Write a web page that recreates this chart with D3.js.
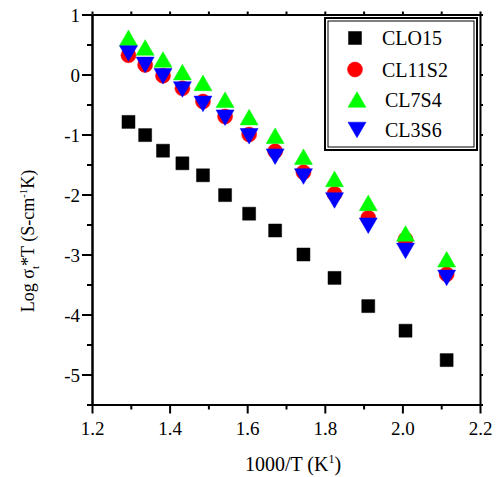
<!DOCTYPE html>
<html>
<head>
<meta charset="utf-8">
<script src="https://cdn.jsdelivr.net/npm/d3@7"></script>
<style>
  html, body { margin: 0; padding: 0; background: #fff; }
  svg { display: block; }
  svg text { font-family: "Liberation Serif", "Times New Roman", serif !important; fill: #000; }
</style>
</head>
<body>
<svg id="chart" width="497" height="477"></svg>
<script>
// ---- data ----
const xValues = [1.294, 1.337, 1.383, 1.433, 1.486, 1.543, 1.605, 1.672, 1.745, 1.825, 1.912, 2.008, 2.114];
const CLO15  = [-0.79, -1.01, -1.27, -1.48, -1.68, -2.01, -2.32, -2.60, -3.00, -3.39, -3.86, -4.27, -4.76];
const CL11S2 = [0.32, 0.16, -0.02, -0.23, -0.45, -0.70, -1.00, -1.28, -1.63, -1.99, -2.39, -2.75, -3.33];
const CL7S4  = [0.61, 0.45, 0.25, 0.04, -0.14, -0.42, -0.71, -1.02, -1.37, -1.74, -2.14, -2.65, -3.08];
const CL3S6  = [0.35, 0.16, -0.03, -0.25, -0.49, -0.72, -1.03, -1.37, -1.70, -2.10, -2.52, -2.94, -3.39];
const seriesNames = ["CLO15", "CL11S2", "CL7S4", "CL3S6"];
const xTicks = [1.2, 1.4, 1.6, 1.8, 2.0, 2.2];
const xTickLabels = ["1.2", "1.4", "1.6", "1.8", "2.0", "2.2"];
const xMinorTicks = [1.3, 1.5, 1.7, 1.9, 2.1];
const yTicks = [1, 0, -1, -2, -3, -4, -5];
const yTickLabels = ["1", "0", "-1", "-2", "-3", "-4", "-5"];
const yMinorTicks = [0.5, -0.5, -1.5, -2.5, -3.5, -4.5, -5.5];

const seriesData = [CLO15, CL11S2, CL7S4, CL3S6];
const colors = ["#000000", "#ff0000", "#00ff00", "#0000ff"];
const shapes = ["square", "circle", "up", "down"];

const svg = d3.select("#chart");
const L = 92, R = 480, T = 14.5, B = 404.5;
const x = d3.scaleLinear().domain([1.2, 2.2]).range([L, R]);
const y = d3.scaleLinear().domain([-5.5, 1]).range([B, T]);

function symbolPath(shape) {
  if (shape === "square") return "M-6.5,-6.5H6.5V6.5H-6.5Z";
  if (shape === "circle") return "M-7.5,0A7.5,7.5 0 1,0 7.5,0A7.5,7.5 0 1,0 -7.5,0Z";
  const h = 15.6, w = 9;
  if (shape === "up") return `M0,${-h/2}L${w},${h/2}L${-w},${h/2}Z`;
  return `M0,${h/2}L${w},${-h/2}L${-w},${-h/2}Z`;
}

// ---- axes ----
const FONT = '"Liberation Serif", "Times New Roman", serif';
const axB = d3.axisBottom(x).tickValues(xTicks).tickFormat((d, i) => xTickLabels[i]).tickSize(9).tickSizeOuter(0);
const axBm = d3.axisBottom(x).tickValues(xMinorTicks).tickFormat("").tickSize(5).tickSizeOuter(0);
const axL = d3.axisLeft(y).tickValues(yTicks).tickFormat((d, i) => yTickLabels[i]).tickSize(10).tickSizeOuter(0);
const axLm = d3.axisLeft(y).tickValues(yMinorTicks).tickFormat("").tickSize(5).tickSizeOuter(0);
const axT = d3.axisTop(x).tickValues(xTicks.concat(xMinorTicks)).tickFormat("").tickSize(3).tickSizeOuter(0);
const axR = d3.axisRight(y).tickValues(yTicks.concat(yMinorTicks)).tickFormat("").tickSize(3).tickSizeOuter(0);

function style(g, fs) {
  g.attr("font-family", FONT).attr("font-size", fs);
  g.selectAll(".domain").attr("stroke", "#000").attr("stroke-width", 2);
  g.selectAll(".tick line").attr("stroke", "#000").attr("stroke-width", 2);
  g.selectAll(".tick text").attr("font-family", FONT).attr("font-size", fs).attr("fill", "#000");
}

svg.append("g").attr("transform", `translate(0,${B})`).call(axBm).call(g => style(g, 19));
svg.append("g").attr("transform", `translate(0,${B})`).call(axB).call(g => style(g, 19))
  .selectAll(".tick text").attr("dy", "0.95em").attr("y", 12);
svg.append("g").attr("transform", `translate(${L},0)`).call(axLm).call(g => style(g, 19));
svg.append("g").attr("transform", `translate(${L},0)`).call(axL).call(g => style(g, 19))
  .selectAll(".tick text").attr("x", -12).attr("dy", "0.35em");
svg.append("g").attr("transform", `translate(0,${T})`).call(axT).call(g => style(g, 19));
svg.append("g").attr("transform", `translate(${R},0)`).call(axR).call(g => style(g, 19));

// ---- data marks ----
seriesData.forEach((vals, i) => {
  svg.append("g").selectAll("path").data(vals).join("path")
    .attr("d", symbolPath(shapes[i]))
    .attr("transform", (d, j) => `translate(${x(xValues[j])},${y(d)})`)
    .attr("fill", colors[i])
    .attr("stroke", colors[i]).attr("stroke-width", 0.5);
});

// ---- legend ----
const lg = svg.append("g");
lg.append("rect").attr("x", 325).attr("y", 18).attr("width", 152).attr("height", 132)
  .attr("fill", "#fff").attr("stroke", "#000").attr("stroke-width", 2);
lg.append("rect").attr("x", 328).attr("y", 21).attr("width", 146).attr("height", 126)
  .attr("fill", "none").attr("stroke", "#000").attr("stroke-width", 1);
const legendY = [38, 69.5, 99.5, 130];
seriesNames.forEach((name, i) => {
  lg.append("path").attr("d", symbolPath(shapes[i]))
    .attr("transform", `translate(${i < 2 ? 355 : 357},${legendY[i]})`)
    .attr("fill", colors[i]).attr("stroke", colors[i]).attr("stroke-width", 0.5);
  lg.append("text").attr("x", i < 2 ? 382 : 385).attr("y", legendY[i] + 7)
    .style("font-size", "20px").text(name);
});

// ---- axis titles ----
const xt = svg.append("text").attr("x", 293).attr("y", 471).attr("text-anchor", "middle").style("font-size", "20px");
xt.append("tspan").text("1000/T (K");
xt.append("tspan").attr("dy", -8).style("font-size", "12px").text("1");
xt.append("tspan").attr("dy", 8).text(")");

const yt = svg.append("text").attr("transform", "translate(34,241) rotate(-90)").attr("text-anchor", "middle").style("font-size", "18px");
yt.append("tspan").text("Log σ");
yt.append("tspan").attr("dy", 5).style("font-size", "11px").text("t");
yt.append("tspan").attr("dy", -5).text("*T (S-cm");
yt.append("tspan").attr("dy", -7).style("font-size", "11px").text("-1");
yt.append("tspan").attr("dy", 7).text("K)");
</script>
</body>
</html>
